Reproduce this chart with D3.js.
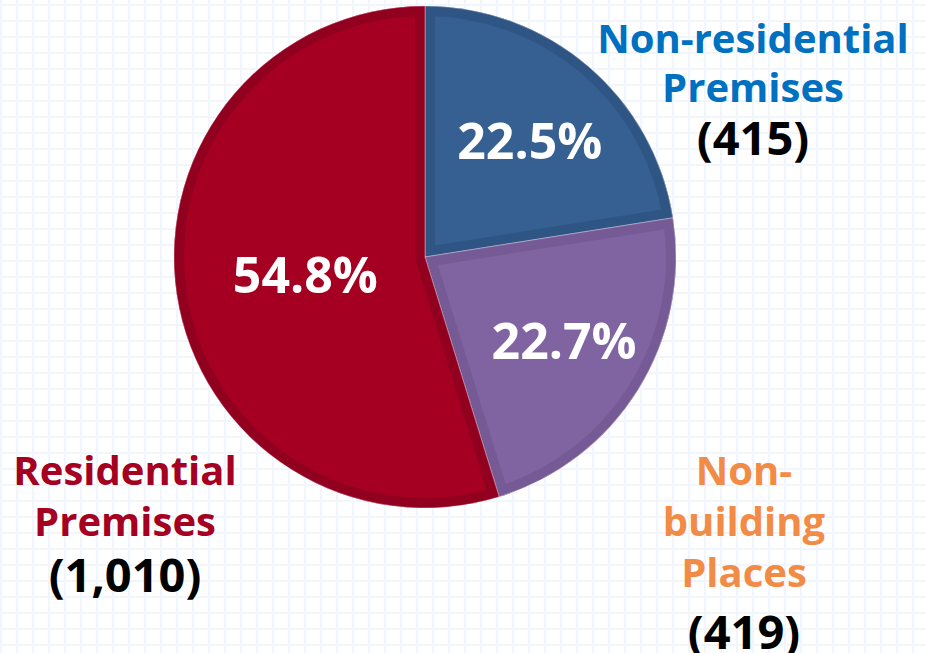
<!DOCTYPE html>
<html>
<head>
<meta charset="utf-8">
<script src="https://cdn.jsdelivr.net/npm/d3@7"></script>
<style>
  html, body { margin: 0; padding: 0; background: #fff; }
  svg { display: block; }
</style>
</head>
<body>
<svg id="chart"></svg>
<script>
// data
const categories = ["Non-residential Premises", "Non-building Places", "Residential Premises"];
const counts = [415, 419, 1010];
const labelLines = [["Non-residential", "Premises"], ["Non-", "building", "Places"], ["Residential", "Premises"]];

const fills = ["#366092", "#8064a2", "#a50021"];
const borders = ["#2f5584", "#765a96", "#920020"];
const labelColors = ["#0070c0", "#f28b45", "#a50021"];

const W = 926, H = 653;
const cx = 425, cy = 257, R = 251;

const svg = d3.select("#chart").attr("width", W).attr("height", H);

// graph paper background
const grid = svg.append("g").attr("stroke", "#f1f5fc").attr("stroke-width", 2);
grid.selectAll(".vl").data(d3.range(1, W, 16)).enter().append("line")
  .attr("x1", d => d).attr("x2", d => d).attr("y1", 0).attr("y2", H);
grid.selectAll(".hl").data(d3.range(5, H, 16)).enter().append("line")
  .attr("y1", d => d).attr("y2", d => d).attr("x1", 0).attr("x2", W);

const total = d3.sum(counts);
const pie = d3.pie().sort(null).value(d => d)(counts);
const arc = d3.arc().innerRadius(0).outerRadius(R);

const g = svg.append("g").attr("transform", `translate(${cx},${cy})`);

const defs = svg.append("defs");
pie.forEach((p, i) => {
  defs.append("clipPath").attr("id", "clip" + i)
    .append("path").attr("d", arc(p));
});

const slices = g.selectAll(".slice").data(pie).enter().append("g").attr("class", "slice");
slices.append("path")
  .attr("d", arc)
  .attr("fill", (d, i) => fills[i]);
// inner darker rim
slices.append("path")
  .attr("d", arc)
  .attr("fill", "none")
  .attr("stroke", (d, i) => borders[i])
  .attr("stroke-width", 20)
  .attr("stroke-linejoin", "miter")
  .attr("clip-path", (d, i) => `url(#clip${i})`);
slices.append("path")
  .attr("d", arc)
  .attr("fill", "none")
  .attr("stroke", "#ffffff")
  .attr("stroke-opacity", 0.35)
  .attr("stroke-width", 1);

// percentage labels
const labelR = [152, 158, 121];
const labelDx = [6, 5, 0];
const fmt = d3.format(".1%");
slices.append("text")
  .attr("transform", (d, i) => {
    const c = d3.arc().innerRadius(labelR[i]).outerRadius(labelR[i]).centroid(d);
    return `translate(${c[0] + labelDx[i]},${c[1] + 18})`;
  })
  .attr("text-anchor", "middle")
  .attr("font-family", "'Open Sans', sans-serif")
  .attr("font-weight", "bold")
  .attr("font-size", 50)
  .attr("fill", "#fff")
  .text((d, i) => fmt(counts[i] / total));

// category labels
const labelPos = [
  { x: 753, y: 53, step: 49, countGap: 53 },
  { x: 744, y: 485, step: 51, countGap: 62 },
  { x: 125, y: 485, step: 51, countGap: 56 }
];
const fmtCount = d3.format(",");
categories.forEach((c, i) => {
  const p = labelPos[i];
  const t = svg.append("g").attr("text-anchor", "middle")
    .attr("font-family", "'Open Sans', sans-serif").attr("font-weight", "bold");
  labelLines[i].forEach((line, j) => {
    t.append("text").attr("x", p.x).attr("y", p.y + j * p.step)
      .attr("font-size", 40).attr("fill", labelColors[i]).text(line);
  });
  const lastY = p.y + (labelLines[i].length - 1) * p.step;
  t.append("text").attr("x", p.x).attr("y", lastY + p.countGap)
    .attr("font-size", 47).attr("fill", "#000").text("(" + fmtCount(counts[i]) + ")");
});
</script>
</body>
</html>
